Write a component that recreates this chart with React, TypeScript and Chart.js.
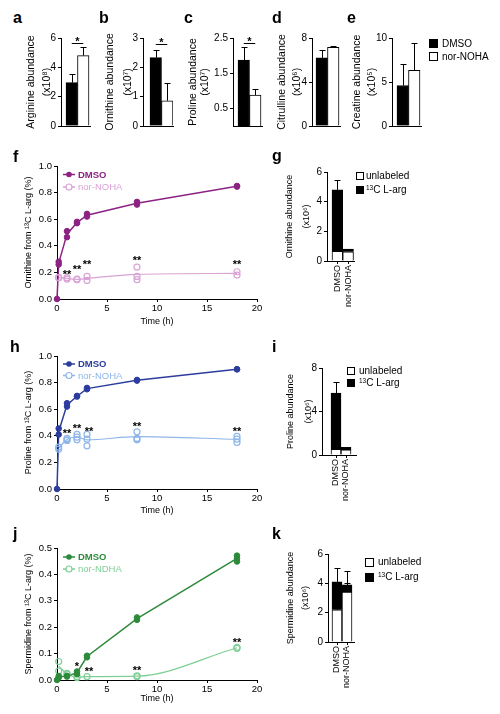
import React, { useEffect, useRef } from 'react';
import { Chart, registerables } from 'chart.js';

Chart.register(...registerables);

const FONT = "'Liberation Sans', Arial, Helvetica, sans-serif";
Chart.defaults.font.family = FONT;
Chart.defaults.color = '#000';

// ---------------- data: panels a–e ----------------
const GROUPS = ['DMSO', 'nor-NOHA'];
const ARG_MEAN = [2.96, 4.8];
const ARG_SEM = [0.6, 0.56];
const ARG_TICKS = [0, 2, 4, 6];
const ARG_SIG = 5.63;
const ORN_MEAN = [2.33, 0.86];
const ORN_SEM = [0.27, 0.59];
const ORN_TICKS = [0, 1, 2, 3];
const ORN_SIG = 2.81;
const PRO_MEAN = [1.87, 0.88];
const PRO_SEM = [0.38, 0.16];
const PRO_TICKS = [0.5, 1.5, 2.5];
const PRO_SIG = 2.36;
const CIT_MEAN = [6.2, 7.16];
const CIT_SEM = [0.69, 0.09];
const CIT_TICKS = [0, 4, 8];
const CRE_MEAN = [4.6, 6.33];
const CRE_SEM = [2.45, 3.1];
const CRE_TICKS = [0, 5, 10];

// ---------------- data: time courses f, h, j ----------------
const TIMES = [0, 0.17, 1, 2, 3, 8, 18];
const NOR_TIMES = [0.17, 1, 2, 3, 8, 18];
const TIME_TICKS = [0, 5, 10, 15, 20];

const ORN13_DMSO = [[0], [0.26, 0.28], [0.465, 0.51], [0.57, 0.58], [0.62, 0.64], [0.71, 0.73], [0.845, 0.85]];
const ORN13_NOR = [[0.16, 0.16], [0.15, 0.16], [0.145, 0.15], [0.14, 0.17], [0.145, 0.17, 0.24], [0.18, 0.205]];
const ORN13_TICKS = [0, 0.2, 0.4, 0.6, 0.8, 1.0];
const ORN13_STAR_T = [1, 2, 3, 8, 18];
const ORN13_STAR_Y = [0.2, 0.24, 0.28, 0.31, 0.275];
const ORN13_STAR_TXT = ['**', '**', '**', '**', '**'];

const PRO13_DMSO = [[0], [0.41, 0.455], [0.62, 0.645], [0.695, 0.7], [0.75, 0.76], [0.815, 0.82], [0.9, 0.9]];
const PRO13_NOR = [[0.3, 0.315], [0.365, 0.37, 0.38], [0.37, 0.39, 0.41], [0.325, 0.375, 0.41], [0.37, 0.38, 0.43], [0.35, 0.375, 0.395]];
const PRO13_TICKS = [0, 0.2, 0.4, 0.6, 0.8, 1.0];
const PRO13_STAR_T = [1, 2, 3.2, 8, 18];
const PRO13_STAR_Y = [0.44, 0.475, 0.45, 0.49, 0.45];
const PRO13_STAR_TXT = ['**', '**', '**', '**', '**'];

const SPD13_DMSO = [[0], [0.009, 0.015], [0.013, 0.016], [0.023, 0.032], [0.086, 0.092], [0.228, 0.237], [0.449, 0.462, 0.471]];
const SPD13_NOR = [[0.034, 0.07], [0.022, 0.025], [0.009, 0.013], [0.013], [0.013, 0.016], [0.12, 0.124]];
const SPD13_TICKS = [0, 0.1, 0.2, 0.3, 0.4, 0.5];
const SPD13_STAR_T = [2, 3.2, 8, 18];
const SPD13_STAR_Y = [0.06, 0.04, 0.044, 0.152];
const SPD13_STAR_TXT = ['*', '**', '**', '**'];

// ---------------- data: stacked g, i, k ----------------
const STACK_CATS = ['DMSO', 'nor-NOHA'];
const G_UNL = [0.66, 0.62];
const G_LAB = [4.14, 0.18];
const G_SEM = [0.68, 0.04];
const G_TICKS = [0, 2, 4, 6];
const I_UNL = [0.52, 0.47];
const I_LAB = [5.17, 0.24];
const I_SEM = [0.98, 0.03];
const I_TICKS = [0, 4, 8];
const K_UNL = [2.2, 3.4];
const K_LAB = [1.9, 0.5];
const K_SEM = [0.95, 0.95];
const K_UNL_SEM = [0.5, 0.6];
const K_TICKS = [0, 2, 4, 6];

// ---------------- helpers ----------------
type Geo = { x0: number; y0: number; x1: number; y1: number; ml: number; mt: number; mr: number; mb: number };

const avg = (a: number[]) => a.reduce((s, v) => s + v, 0) / a.length;

function base(g: Geo) {
  return {
    responsive: false,
    maintainAspectRatio: false,
    animation: false,
    devicePixelRatio: 1,
    events: [],
    layout: { padding: { left: 0, top: g.mt, right: g.mr, bottom: 0 } },
    plugins: { legend: { display: false }, tooltip: { enabled: false }, title: { display: false } },
  };
}

function yScale(g: Geo, o: any) {
  return {
    type: 'linear',
    min: 0,
    max: o.max,
    stacked: !!o.stacked,
    afterBuildTicks: (s: any) => {
      s.ticks = o.ticks.map((v: number) => ({ value: v }));
    },
    afterFit: (s: any) => {
      s.width = g.ml;
      s.paddingTop = 0;
      s.paddingBottom = 0;
    },
    grid: { display: true, drawOnChartArea: false, drawTicks: true, tickLength: 3, color: '#000', tickColor: '#000', lineWidth: 1, tickWidth: 1 },
    border: { display: true, color: '#000', width: 1 },
    ticks: { color: '#000', font: { size: o.size }, padding: 2, callback: (v: number) => Number(v).toFixed(o.dec) },
    title: {
      display: true,
      text: o.title,
      color: '#000',
      font: { size: o.tSize, lineHeight: o.tLH + 'px' },
      padding: { top: g.ml + o.tFirst - o.tLH / 2, bottom: 0 },
    },
  };
}

function ChartCanvas({ geo, make }: { geo: Geo; make: () => any }) {
  const ref = useRef<HTMLCanvasElement>(null);
  useEffect(() => {
    const chart = new Chart(ref.current as HTMLCanvasElement, make());
    return () => chart.destroy();
  }, []);
  const w = geo.x1 - geo.x0 + geo.ml + geo.mr;
  const h = geo.y1 - geo.y0 + geo.mt + geo.mb;
  return (
    <canvas
      ref={ref}
      width={w}
      height={h}
      style={{ position: 'absolute', left: geo.x0 - geo.ml, top: geo.y0 - geo.mt, width: w, height: h }}
    />
  );
}

function errorPlugin(items: { ds: number; i: number; val: number }[]) {
  return {
    id: 'errbars',
    afterDatasetsDraw(chart: any) {
      const ctx = chart.ctx;
      const ys = chart.scales.y;
      ctx.save();
      ctx.strokeStyle = '#000';
      ctx.lineWidth = 1;
      for (const it of items) {
        const el = chart.getDatasetMeta(it.ds).data[it.i];
        if (!el) continue;
        const x = Math.round(el.x) + 0.5;
        const yt = Math.round(ys.getPixelForValue(it.val)) + 0.5;
        ctx.beginPath();
        ctx.moveTo(x, el.y);
        ctx.lineTo(x, yt);
        ctx.moveTo(x - 3, yt);
        ctx.lineTo(x + 3, yt);
        ctx.stroke();
      }
      ctx.restore();
    },
  };
}

// ---------------- panels a–e ----------------
const BAR_W = 11.5;
const TOP = [
  { key: 'a', mean: ARG_MEAN, sem: ARG_SEM, ticks: ARG_TICKS, max: 6, dec: 0, title: ['Arginine abundance', '(x10⁸)'], sig: ARG_SIG, geo: { x0: 61, y0: 38, x1: 90, y1: 126, ml: 50, mt: 10, mr: 4, mb: 4 }, gap: 5, tFirst: -30, tLH: 16 },
  { key: 'b', mean: ORN_MEAN, sem: ORN_SEM, ticks: ORN_TICKS, max: 3, dec: 0, title: ['Ornithine abundance', '(x10⁷)'], sig: ORN_SIG, geo: { x0: 143, y0: 38, x1: 173, y1: 126, ml: 50, mt: 10, mr: 4, mb: 4 }, gap: 7, tFirst: -33, tLH: 18 },
  { key: 'c', mean: PRO_MEAN, sem: PRO_SEM, ticks: PRO_TICKS, max: 2.5, dec: 1, title: ['Proline abundance', '(x10⁷)'], sig: PRO_SIG, geo: { x0: 233, y0: 38, x1: 262, y1: 126, ml: 50, mt: 10, mr: 4, mb: 4 }, gap: 5, tFirst: -40, tLH: 12 },
  { key: 'd', mean: CIT_MEAN, sem: CIT_SEM, ticks: CIT_TICKS, max: 8, dec: 0, title: ['Citrulline abundance', '(x10⁶)'], sig: null, geo: { x0: 312, y0: 38, x1: 340, y1: 126, ml: 50, mt: 10, mr: 4, mb: 4 }, gap: 4, tFirst: -30, tLH: 15 },
  { key: 'e', mean: CRE_MEAN, sem: CRE_SEM, ticks: CRE_TICKS, max: 10, dec: 0, title: ['Creatine abundance', '(x10⁵)'], sig: null, geo: { x0: 392, y0: 38, x1: 421, y1: 126, ml: 50, mt: 10, mr: 4, mb: 4 }, gap: 5, tFirst: -35, tLH: 15 },
];

function topConfig(p: any) {
  const g: Geo = p.geo;
  const min = 1 - (p.gap + BAR_W) / BAR_W;
  const max = min + (g.x1 - g.x0) / BAR_W;
  const sigPlugin = {
    id: 'sig',
    afterDatasetsDraw(chart: any) {
      if (p.sig == null) return;
      const ctx = chart.ctx;
      const a = chart.getDatasetMeta(0).data[0];
      const b = chart.getDatasetMeta(1).data[0];
      const y = Math.round(chart.scales.y.getPixelForValue(p.sig)) + 0.5;
      ctx.save();
      ctx.strokeStyle = '#000';
      ctx.lineWidth = 1;
      ctx.beginPath();
      ctx.moveTo(a.x, y);
      ctx.lineTo(b.x, y);
      ctx.stroke();
      ctx.fillStyle = '#000';
      ctx.font = `bold 11px ${FONT}`;
      ctx.textAlign = 'center';
      ctx.textBaseline = 'middle';
      ctx.fillText('*', (a.x + b.x) / 2, y - 5 + 3);
      ctx.restore();
    },
  };
  return {
    type: 'bar',
    data: {
      datasets: GROUPS.map((name, k) => ({
        label: name,
        data: [{ x: 1, y: p.mean[k] }],
        backgroundColor: k === 0 ? '#000' : '#fff',
        borderColor: '#000',
        borderWidth: 1,
        barThickness: BAR_W,
      })),
    },
    options: {
      ...base(g),
      scales: {
        x: {
          type: 'linear',
          min,
          max,
          offset: false,
          afterFit: (s: any) => {
            s.height = g.mb;
            s.paddingLeft = 0;
            s.paddingRight = 0;
          },
          grid: { display: false, offset: false },
          border: { display: true, color: '#000', width: 1 },
          ticks: { display: false },
        },
        y: yScale(g, { max: p.max, ticks: p.ticks, dec: p.dec, size: 10, title: p.title, tSize: 10.5, tLH: p.tLH, tFirst: p.tFirst }),
      },
    },
    plugins: [errorPlugin(GROUPS.map((_, k) => ({ ds: k, i: 0, val: p.mean[k] + p.sem[k] }))), sigPlugin],
  };
}

// ---------------- stacked g, i, k ----------------
const STK = [
  { key: 'g', unl: G_UNL, lab: G_LAB, sem: G_SEM, unlSem: null, max: 6, ticks: G_TICKS, title: ['Ornithine abundance', '(x10⁶)'], geo: { x0: 327, y0: 172, x1: 354, y1: 261, ml: 50, mt: 8, mr: 4, mb: 55 }, barStart: 332, barW: 10.75, tFirst: -37, tLH: 17 },
  { key: 'i', unl: I_UNL, lab: I_LAB, sem: I_SEM, unlSem: null, max: 8, ticks: I_TICKS, title: ['Proline abundance', '(x10⁶)'], geo: { x0: 322, y0: 368, x1: 356, y1: 455, ml: 50, mt: 8, mr: 4, mb: 55 }, barStart: 331, barW: 10, tFirst: -31, tLH: 18 },
  { key: 'k', unl: K_UNL, lab: K_LAB, sem: K_SEM, unlSem: K_UNL_SEM, max: 6, ticks: K_TICKS, title: ['Spermidine abundance', '(x10⁶)'], geo: { x0: 328, y0: 554, x1: 354, y1: 642, ml: 50, mt: 8, mr: 4, mb: 55 }, barStart: 332, barW: 10, tFirst: -37, tLH: 15 },
];

function stackConfig(p: any) {
  const g: Geo = p.geo;
  const min = 1 - (p.barStart + p.barW / 2 - g.x0) / p.barW;
  const max = min + (g.x1 - g.x0) / p.barW;
  const errs: { ds: number; i: number; val: number }[] = [];
  STACK_CATS.forEach((_, k) => {
    if (p.unlSem) errs.push({ ds: 0, i: k, val: p.unl[k] + p.unlSem[k] });
  });
  STACK_CATS.forEach((_, k) => errs.push({ ds: 1, i: k, val: p.unl[k] + p.lab[k] + p.sem[k] }));
  return {
    type: 'bar',
    data: {
      datasets: [
        { label: 'unlabeled', data: STACK_CATS.map((_, k) => ({ x: k + 1, y: p.unl[k] })), backgroundColor: '#fff', borderColor: '#000', borderWidth: 1, barThickness: p.barW },
        { label: '¹³C L-arg', data: STACK_CATS.map((_, k) => ({ x: k + 1, y: p.lab[k] })), backgroundColor: '#000', borderColor: '#000', borderWidth: 1, barThickness: p.barW },
      ],
    },
    options: {
      ...base(g),
      scales: {
        x: {
          type: 'linear',
          min,
          max,
          offset: false,
          stacked: true,
          afterBuildTicks: (s: any) => {
            s.ticks = STACK_CATS.map((_, k) => ({ value: k + 1 }));
          },
          afterFit: (s: any) => {
            s.height = g.mb;
            s.paddingLeft = 0;
            s.paddingRight = 0;
          },
          grid: { display: true, drawOnChartArea: false, drawTicks: true, tickLength: 3, color: '#000', offset: false },
          border: { display: true, color: '#000', width: 1 },
          ticks: {
            autoSkip: false,
            minRotation: 90,
            maxRotation: 90,
            padding: 1,
            color: '#000',
            font: { size: 9 },
            callback: (v: number) => STACK_CATS[Math.round(v) - 1] ?? '',
          },
        },
        y: yScale(g, { max: p.max, ticks: p.ticks, dec: 0, size: 10, title: p.title, tSize: 9, tLH: p.tLH, tFirst: p.tFirst, stacked: true }),
      },
    },
    plugins: [errorPlugin(errs)],
  };
}

// ---------------- time courses f, h, j ----------------
const LINES = [
  { key: 'f', dmso: ORN13_DMSO, nor: ORN13_NOR, dark: '#8C2383', light: '#D9A3D6', norLabel: 'nor-NOHA', title: 'Ornithine from ¹³C L-arg (%)', max: 1, ticks: ORN13_TICKS, starT: ORN13_STAR_T, starY: ORN13_STAR_Y, starTxt: ORN13_STAR_TXT, geo: { x0: 57, y0: 166, x1: 257, y1: 299, ml: 56, mt: 8, mr: 12, mb: 30 }, timeY: 322, legY: [8.5, 21] },
  { key: 'h', dmso: PRO13_DMSO, nor: PRO13_NOR, dark: '#2C3D9E', light: '#8FB6EA', norLabel: 'nor-NOHA', title: 'Proline from ¹³C L-arg (%)', max: 1, ticks: PRO13_TICKS, starT: PRO13_STAR_T, starY: PRO13_STAR_Y, starTxt: PRO13_STAR_TXT, geo: { x0: 57, y0: 356, x1: 257, y1: 489, ml: 56, mt: 8, mr: 12, mb: 30 }, timeY: 511, legY: [8, 19.5] },
  { key: 'j', dmso: SPD13_DMSO, nor: SPD13_NOR, dark: '#2E8A3B', light: '#7FCE96', norLabel: 'nor-NDHA', title: 'Spermidine from ¹³C L-arg (%)', max: 0.5, ticks: SPD13_TICKS, starT: SPD13_STAR_T, starY: SPD13_STAR_Y, starTxt: SPD13_STAR_TXT, geo: { x0: 57, y0: 548, x1: 257, y1: 680, ml: 56, mt: 8, mr: 12, mb: 28 }, timeY: 699, legY: [9, 21] },
];

function lineConfig(p: any) {
  const g: Geo = p.geo;
  const reps = (times: number[], vals: number[][]) => {
    const out: { x: number; y: number }[] = [];
    vals.forEach((r, k) => r.forEach((v) => out.push({ x: times[k], y: v })));
    return out;
  };
  const means = (times: number[], vals: number[][]) => vals.map((r, k) => ({ x: times[k], y: avg(r) }));
  const xTitleLH = 11;
  const extras = {
    id: 'extras',
    afterDatasetsDraw(chart: any) {
      const { ctx, scales } = chart;
      ctx.save();
      ctx.fillStyle = '#000';
      ctx.font = `bold 11px ${FONT}`;
      ctx.textAlign = 'center';
      ctx.textBaseline = 'middle';
      p.starT.forEach((t: number, k: number) => {
        ctx.fillText(p.starTxt[k], scales.x.getPixelForValue(t), scales.y.getPixelForValue(p.starY[k]) + 3);
      });
      ctx.restore();
    },
    afterDraw(chart: any) {
      const { ctx, chartArea } = chart;
      const items = [
        { label: 'DMSO', color: p.dark, filled: true, bold: true },
        { label: p.norLabel, color: p.light, filled: false, bold: false },
      ];
      ctx.save();
      items.forEach((it, k) => {
        const y = chartArea.top + p.legY[k];
        const cx = chartArea.left + 12;
        ctx.strokeStyle = it.color;
        ctx.lineWidth = 1.5;
        ctx.beginPath();
        ctx.moveTo(cx - 6, y);
        ctx.lineTo(cx + 6, y);
        ctx.stroke();
        ctx.beginPath();
        ctx.arc(cx, y, it.filled ? 2.8 : 3, 0, Math.PI * 2);
        if (it.filled) {
          ctx.fillStyle = it.color;
          ctx.fill();
        } else {
          ctx.fillStyle = '#fff';
          ctx.fill();
          ctx.lineWidth = 1.2;
          ctx.stroke();
        }
        ctx.fillStyle = it.color;
        ctx.font = `${it.bold ? 'bold ' : ''}9.5px ${FONT}`;
        ctx.textAlign = 'left';
        ctx.textBaseline = 'middle';
        ctx.fillText(it.label, chartArea.left + 21, y + 0.5);
      });
      ctx.restore();
    },
  };
  return {
    type: 'scatter',
    data: {
      datasets: [
        { label: 'DMSO', data: reps(TIMES, p.dmso), showLine: false, pointRadius: 2.8, pointBackgroundColor: p.dark, pointBorderColor: p.dark, pointBorderWidth: 1, clip: false },
        { label: p.norLabel, data: reps(NOR_TIMES, p.nor), showLine: false, pointRadius: 3, pointBackgroundColor: 'rgba(255,255,255,0)', pointBorderColor: p.light, pointBorderWidth: 1.2, clip: false },
        { label: 'DMSO mean', data: means(TIMES, p.dmso), showLine: true, borderColor: p.dark, borderWidth: 1.5, pointRadius: 0, tension: 0, clip: false },
        { label: p.norLabel + ' mean', data: means(NOR_TIMES, p.nor), showLine: true, borderColor: p.light, borderWidth: 1.2, pointRadius: 0, cubicInterpolationMode: 'monotone', clip: false },
      ],
    },
    options: {
      ...base(g),
      scales: {
        x: {
          type: 'linear',
          min: 0,
          max: 20,
          afterBuildTicks: (s: any) => {
            s.ticks = TIME_TICKS.map((v) => ({ value: v }));
          },
          afterFit: (s: any) => {
            s.height = g.mb;
            s.paddingLeft = 0;
            s.paddingRight = 0;
          },
          grid: { display: true, drawOnChartArea: false, drawTicks: true, tickLength: 3, color: '#000', tickColor: '#000' },
          border: { display: true, color: '#000', width: 1 },
          ticks: { color: '#000', font: { size: 9.5 }, padding: 1, maxRotation: 0 },
          title: {
            display: true,
            text: 'Time (h)',
            color: '#000',
            font: { size: 9, lineHeight: xTitleLH + 'px' },
            padding: { top: 0, bottom: g.y1 + g.mb - p.timeY - xTitleLH / 2 },
          },
        },
        y: yScale(g, { max: p.max, ticks: p.ticks, dec: 1, size: 9.5, title: p.title, tSize: 9, tLH: 11, tFirst: -28 }),
      },
    },
    plugins: [extras],
  };
}

// ---------------- static text: panel letters and box legends ----------------
const LETTERS = [
  { t: 'a', x: 13, b: 23 },
  { t: 'b', x: 99, b: 23 },
  { t: 'c', x: 184, b: 23 },
  { t: 'd', x: 272, b: 23 },
  { t: 'e', x: 347, b: 23 },
  { t: 'f', x: 13, b: 162 },
  { t: 'g', x: 272, b: 161 },
  { t: 'h', x: 10, b: 352 },
  { t: 'i', x: 272, b: 352 },
  { t: 'j', x: 13, b: 539 },
  { t: 'k', x: 272, b: 539 },
];

const LabLabel = () => (
  <>
    <sup style={{ fontSize: 6.5, lineHeight: 0, verticalAlign: '3px' }}>13</sup>C L-arg
  </>
);

function BoxLegend({ x, tx, ys, size, items }: any) {
  return (
    <>
      {items.map((it: any, k: number) => (
        <React.Fragment key={k}>
          <div
            style={{
              position: 'absolute',
              left: x,
              top: ys[k] - size / 2,
              width: size,
              height: size,
              boxSizing: 'border-box',
              border: '1px solid #000',
              background: it.fill,
            }}
          />
          <div style={{ position: 'absolute', left: tx, top: ys[k] - 7, height: 14, lineHeight: '14px', fontSize: 10, whiteSpace: 'nowrap', color: '#000' }}>
            {it.label}
          </div>
        </React.Fragment>
      ))}
    </>
  );
}

const STACK_LEGEND = [
  { fill: '#fff', label: 'unlabeled' },
  { fill: '#000', label: <LabLabel /> },
];

export default function App() {
  return (
    <div style={{ position: 'absolute', left: 0, top: 0, width: 500, height: 714, background: '#fff', overflow: 'hidden', fontFamily: FONT }}>
      {TOP.map((p) => (
        <ChartCanvas key={p.key} geo={p.geo} make={() => topConfig(p)} />
      ))}
      {STK.map((p) => (
        <ChartCanvas key={p.key} geo={p.geo} make={() => stackConfig(p)} />
      ))}
      {LINES.map((p) => (
        <ChartCanvas key={p.key} geo={p.geo} make={() => lineConfig(p)} />
      ))}
      {LETTERS.map((l) => (
        <div key={l.t} style={{ position: 'absolute', left: l.x, top: l.b - 13.5, fontWeight: 'bold', fontSize: 16, lineHeight: '16px', color: '#000' }}>
          {l.t}
        </div>
      ))}
      <BoxLegend x={429} tx={442} ys={[43.5, 56.5]} size={9} items={GROUPS.map((g, k) => ({ fill: k === 0 ? '#000' : '#fff', label: g }))} />
      <BoxLegend x={356} tx={366} ys={[176, 190]} size={8} items={STACK_LEGEND} />
      <BoxLegend x={347} tx={359} ys={[371, 383]} size={8} items={STACK_LEGEND} />
      <BoxLegend x={365} tx={378} ys={[562, 577]} size={9} items={STACK_LEGEND} />
    </div>
  );
}
